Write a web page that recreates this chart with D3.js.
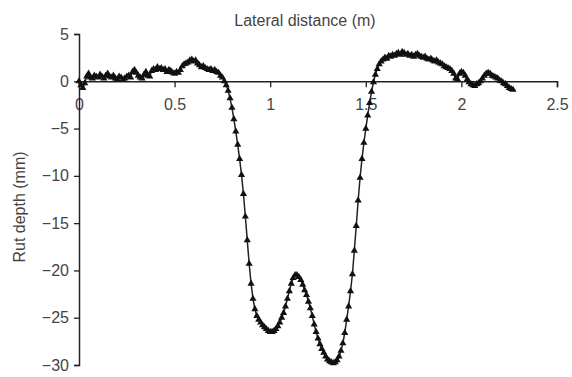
<!DOCTYPE html>
<html>
<head>
<meta charset="utf-8">
<script src="https://cdn.jsdelivr.net/npm/d3@7"></script>
<style>
  html, body { margin: 0; padding: 0; background: #fff; }
  svg { display: block; }
  text { font-family: "Liberation Sans", Arial, sans-serif; }
</style>
</head>
<body>
<svg id="chart" width="572" height="377"></svg>
<script>
const distance = [
  0.00,0.01,0.02,0.03,0.04,0.05,0.06,0.07,0.08,0.09,
  0.10,0.11,0.12,0.13,0.14,0.15,0.16,0.17,0.18,0.19,
  0.20,0.21,0.22,0.23,0.24,0.25,0.26,0.27,0.28,0.29,
  0.30,0.31,0.32,0.33,0.34,0.35,0.36,0.37,0.38,0.39,
  0.40,0.41,0.42,0.43,0.44,0.45,0.46,0.47,0.48,0.49,
  0.50,0.51,0.52,0.53,0.54,0.55,0.56,0.57,0.58,0.59,
  0.60,0.61,0.62,0.63,0.64,0.65,0.66,0.67,0.68,0.69,
  0.70,0.71,0.72,0.73,0.74,0.75,0.76,0.77,0.78,0.79,
  0.80,0.81,0.82,0.83,0.84,0.85,0.86,0.87,0.88,0.89,
  0.90,0.91,0.92,0.93,0.94,0.95,0.96,0.97,0.98,0.99,
  1.00,1.01,1.02,1.03,1.04,1.05,1.06,1.07,1.08,1.09,
  1.10,1.11,1.12,1.13,1.14,1.15,1.16,1.17,1.18,1.19,
  1.20,1.21,1.22,1.23,1.24,1.25,1.26,1.27,1.28,1.29,
  1.30,1.31,1.32,1.33,1.34,1.35,1.36,1.37,1.38,1.39,
  1.40,1.41,1.42,1.43,1.44,1.45,1.46,1.47,1.48,1.49,
  1.50,1.51,1.52,1.53,1.54,1.55,1.56,1.57,1.58,1.59,
  1.60,1.61,1.62,1.63,1.64,1.65,1.66,1.67,1.68,1.69,
  1.70,1.71,1.72,1.73,1.74,1.75,1.76,1.77,1.78,1.79,
  1.80,1.81,1.82,1.83,1.84,1.85,1.86,1.87,1.88,1.89,
  1.90,1.91,1.92,1.93,1.94,1.95,1.96,1.97,1.98,1.99,
  2.00,2.01,2.02,2.03,2.04,2.05,2.06,2.07,2.08,2.09,
  2.10,2.11,2.12,2.13,2.14,2.15,2.16,2.17,2.18,2.19,
  2.20,2.21,2.22,2.23,2.24,2.25,2.26,2.27
];
const rutDepth = [
  0.0,-0.4,-0.7,-0.2,0.5,0.8,0.4,0.3,0.6,0.5,
  0.4,0.7,0.5,0.3,0.6,0.8,0.5,0.4,0.6,0.3,
  0.2,0.5,0.4,0.2,0.3,0.5,0.6,0.4,1.0,1.2,
  0.9,0.6,0.4,0.3,0.7,1.0,0.6,0.5,1.1,1.3,
  1.2,1.5,1.3,1.4,1.2,1.3,1.0,1.2,1.1,0.9,
  0.8,1.0,0.9,1.2,1.6,1.8,1.9,2.0,2.2,2.3,
  2.1,2.2,1.9,1.7,1.5,1.6,1.4,1.3,1.2,1.3,
  1.1,1.2,1.0,0.9,0.6,0.4,0.0,-0.4,-1.0,-1.8,
  -2.8,-4.0,-5.3,-6.7,-8.2,-9.9,-11.9,-14.3,-16.8,-19.3,
  -21.4,-23.0,-24.1,-24.8,-25.2,-25.5,-25.8,-26.0,-26.2,-26.4,
  -26.5,-26.5,-26.4,-26.2,-25.9,-25.5,-25.0,-24.5,-23.8,-23.0,
  -22.2,-21.4,-20.8,-20.5,-20.5,-20.7,-21.0,-21.5,-22.1,-22.6,
  -23.3,-24.0,-24.8,-25.7,-26.5,-27.2,-27.8,-28.3,-28.7,-29.1,
  -29.4,-29.6,-29.7,-29.8,-29.7,-29.5,-29.1,-28.5,-27.7,-26.6,
  -25.2,-23.8,-22.2,-20.4,-17.9,-15.3,-12.6,-10.2,-8.2,-6.5,
  -5.0,-3.6,-2.3,-1.1,-0.1,0.7,1.3,1.8,2.1,2.3,
  2.5,2.4,2.7,2.6,2.8,2.7,2.9,3.0,2.8,3.1,
  3.0,2.8,2.9,2.7,2.8,2.6,2.8,2.9,2.7,2.6,
  2.5,2.6,2.4,2.3,2.4,2.2,2.1,2.2,2.0,1.9,
  1.8,1.6,1.5,1.4,1.3,1.1,0.8,0.3,0.2,0.8,
  1.0,0.9,0.6,0.2,-0.1,-0.3,-0.4,-0.5,-0.3,-0.2,
  0.0,0.3,0.6,0.8,0.9,0.8,0.6,0.5,0.4,0.3,
  0.1,0.0,-0.2,-0.3,-0.5,-0.7,-0.8,-0.9
];
const xTickValues = [0, 0.5, 1, 1.5, 2, 2.5];
const xTickLabels = ["0", "0.5", "1", "1.5", "2", "2.5"];
const yTickValues = [5, 0, -5, -10, -15, -20, -25, -30];
const yTickLabels = ["5", "0", "\u22125", "\u221210", "\u221215", "\u221220", "\u221225", "\u221230"];
const xTitle = "Lateral distance (m)";
const yTitle = "Rut depth (mm)";

const data = distance.map((d, i) => ({ x: d, y: rutDepth[i] }));

const svg = d3.select("#chart");
const x = d3.scaleLinear().domain([0, 2.5]).range([79, 557]);
const y = d3.scaleLinear().domain([-30, 5]).range([365, 34]);

const textColor = "#444";
const axisColor = "#222";

// X axis at y = 0
const gx = svg.append("g")
  .attr("transform", `translate(0,${y(0)})`)
  .call(d3.axisBottom(x).tickValues(xTickValues).tickSizeOuter(0).tickSize(6)
    .tickFormat((d, i) => xTickLabels[i]));
gx.select(".domain").attr("stroke", axisColor).attr("stroke-width", 1.5);
gx.selectAll(".tick line").attr("stroke", axisColor).attr("stroke-width", 1.3);
gx.selectAll(".tick text").attr("y", 17).attr("fill", textColor)
  .style("font-size", "16px").style("font-family", "'Liberation Sans', Arial, sans-serif");

// Y axis at x = 0
const gy = svg.append("g")
  .attr("transform", `translate(${x(0)},0)`)
  .call(d3.axisLeft(y).tickValues(yTickValues).tickSizeOuter(0).tickSize(5)
    .tickFormat((d, i) => yTickLabels[i]));
gy.select(".domain").attr("stroke", axisColor).attr("stroke-width", 1.5);
gy.selectAll(".tick line").attr("stroke", axisColor).attr("stroke-width", 1.3);
gy.selectAll(".tick text").attr("x", -10).attr("fill", textColor)
  .style("font-size", "16px").style("font-family", "'Liberation Sans', Arial, sans-serif");

// Titles
svg.append("text")
  .attr("x", 305).attr("y", 26)
  .attr("text-anchor", "middle")
  .attr("fill", textColor)
  .style("font-size", "16px")
  .text(xTitle);

svg.append("text")
  .attr("transform", `translate(25,207) rotate(-90)`)
  .attr("text-anchor", "middle")
  .attr("fill", textColor)
  .style("font-size", "16px")
  .text(yTitle);

// Line
const line = d3.line().x(d => x(d.x)).y(d => y(d.y));
svg.append("path")
  .datum(data)
  .attr("fill", "none")
  .attr("stroke", "#222")
  .attr("stroke-width", 1.5)
  .attr("d", line);

// Triangle markers
const tri = d3.symbol().type(d3.symbolTriangle).size(22);
svg.append("g")
  .selectAll("path")
  .data(data)
  .join("path")
  .attr("transform", d => `translate(${x(d.x)},${y(d.y)})`)
  .attr("d", tri)
  .attr("fill", "#111");
</script>
</body>
</html>
